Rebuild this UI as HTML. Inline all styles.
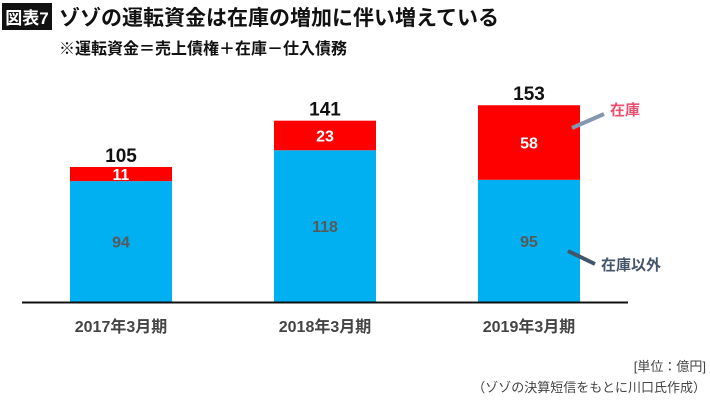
<!DOCTYPE html>
<html><head><meta charset="utf-8"><style>
html,body{margin:0;padding:0;background:#fff;}
body{width:710px;height:403px;overflow:hidden;font-family:"Liberation Sans","Noto Sans CJK JP",sans-serif;}
svg text{font-family:"Liberation Sans","Noto Sans CJK JP",sans-serif;font-weight:bold;}
</style></head><body>
<svg id="chart" width="710" height="403">
<rect x="2" y="3" width="50" height="27" fill="#111"/>
<text x="27" y="24" font-size="17" fill="#fff" text-anchor="middle">図表7</text>
<text x="59" y="25" font-size="21" fill="#111">ゾゾの運転資金は在庫の増加に伴い増えている</text>
<text x="59" y="54" font-size="16" fill="#111">※運転資金＝売上債権＋在庫－仕入債務</text>
<g id="bars"></g>
<line x1="22" y1="302.5" x2="628" y2="302.5" stroke="#111" stroke-width="2"/>
<line x1="572" y1="128" x2="604" y2="114" stroke="#8496b0" stroke-width="4"/>
<text x="610" y="115" font-size="15" fill="#e8506e">在庫</text>
<line x1="568" y1="251" x2="595" y2="264" stroke="#44546a" stroke-width="4"/>
<text x="601" y="270" font-size="15" fill="#44546a">在庫以外</text>
<text x="706" y="371" font-size="13" fill="#444" text-anchor="end" style="font-weight:normal">[単位：億円]</text>
<text x="706" y="392" font-size="13" fill="#444" text-anchor="end" style="font-weight:normal">（ゾゾの決算短信をもとに川口氏作成）</text>
</svg>
<script>
const categories=["2017年3月期","2018年3月期","2019年3月期"];
const otherValues=[94,118,95];
const inventoryValues=[11,23,58];
const totals=[105,141,153];
const NS="http://www.w3.org/2000/svg";
const base=302, scale=1.286, x0=70, step=204, bw=102;
const xPos=i=>x0+i*step;
const yPos=v=>base-v*scale;
const g=document.getElementById('bars');
function mk(tag,attrs,txt){const e=document.createElementNS(NS,tag);for(const k in attrs)e.setAttribute(k,attrs[k]);if(txt!=null)e.textContent=txt;g.appendChild(e);return e;}
categories.forEach((c,i)=>{
 const x=xPos(i);
 const yo=yPos(otherValues[i]);
 const r1=mk('rect',{x:x,y:yo,width:bw,height:base-yo,fill:'#00b0f0'});
 
 
 const yt=yPos(otherValues[i]+inventoryValues[i]);
 const r2=mk('rect',{x:x,y:yt,width:bw,height:yo-yt,fill:'#ff0000'});
 
 
 const t1=mk('text',{x:x+bw/2,y:(yo+base)/2+6,'font-size':16,fill:'#595959','text-anchor':'middle'},otherValues[i]);
 
 
 const t2=mk('text',{x:x+bw/2,y:(yt+yo)/2+6,'font-size':16,fill:'#fff','text-anchor':'middle'},inventoryValues[i]);
 
 
 const t3=mk('text',{x:x+bw/2,y:yPos(totals[i])-5,'font-size':19,fill:'#111','text-anchor':'middle'},totals[i]);
 
 
 const t4=mk('text',{x:x+bw/2,y:332,'font-size':16,fill:'#444','text-anchor':'middle'},c);
 
 
});
</script>
</body></html>
